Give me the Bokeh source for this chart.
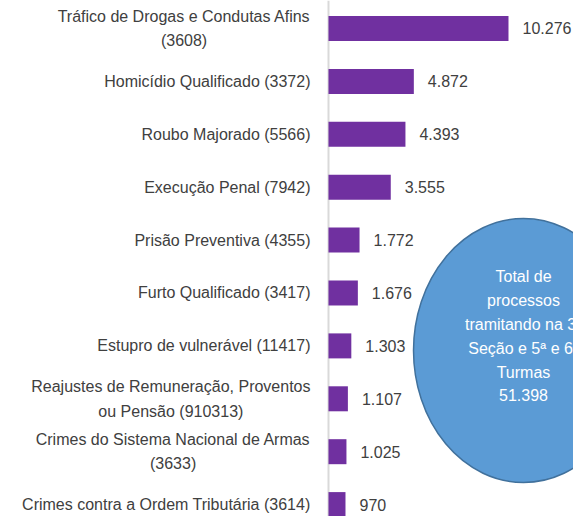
from bokeh.plotting import figure
from bokeh.models import ColumnDataSource, Range1d, Span
from bokeh.core.properties import value
from bokeh.embed import file_html
from bokeh.resources import INLINE

categories = [
    "Tráfico de Drogas e Condutas Afins\n(3608)",
    "Homicídio Qualificado (3372)",
    "Roubo Majorado (5566)",
    "Execução Penal (7942)",
    "Prisão Preventiva (4355)",
    "Furto Qualificado (3417)",
    "Estupro de vulnerável (11417)",
    "Reajustes de Remuneração, Proventos\nou Pensão (910313)",
    "Crimes do Sistema Nacional de Armas\n(3633)",
    "Crimes contra a Ordem Tributária (3614)",
]
values = [10276, 4872, 4393, 3555, 1772, 1676, 1303, 1107, 1025, 970]
total_value = 51398
total_caption = "Total de\nprocessos\ntramitando na 3ª\nSeção e 5ª e 6ª\nTurmas"


def fmt(v):
    return f"{v:,}".replace(",", ".")


positions = list(range(len(categories)))
src = ColumnDataSource(dict(
    y=positions,
    v=values,
    cat=categories,
    lab=[fmt(v) for v in values],
))

FONT = value("Liberation Sans")
TXT = "#404040"
FS = "16px"

p = figure(width=573, height=516, output_backend="svg", toolbar_location=None,
           x_range=Range1d(-18725, 13987), y_range=Range1d(9.225, -0.529),
           min_border_left=0, min_border_right=0, min_border_top=0,
           min_border_bottom=0)
p.outline_line_color = None
p.grid.visible = False
p.xaxis.visible = False
p.yaxis.visible = False

p.add_layout(Span(location=0, dimension="height", line_color="#d9d9d9",
                  line_width=2, level="underlay"))

p.hbar(y="y", left=0, right="v", height=0.4726, source=src,
       fill_color="#7030A0", line_color=None)

p.text(x="v", y="y", text="lab", source=src, x_offset=14,
       text_align="left", text_baseline="middle", text_font=FONT,
       text_font_size=FS, text_color=TXT)

p.text(x=0, y="y", text="cat", source=src, x_offset=-18,
       anchor=value("center_right"), text_align="center",
       text_baseline="middle", text_font=FONT, text_font_size=FS,
       text_color=TXT, text_line_height=1.44)

# total bubble
p.ellipse(x=[11133], y=[6.087], width=[220], height=[264],
          width_units="screen", height_units="screen",
          fill_color="#5B9BD5", line_color="#41719C", line_width=1.5)
p.text(x=[11133], y=[5.822], text=[total_caption + "\n" + fmt(total_value)],
       text_align="center", text_baseline="middle", text_font=FONT,
       text_font_size=FS, text_color="white", text_line_height=1.40)

open("out.html", "w").write(file_html(p, INLINE))
